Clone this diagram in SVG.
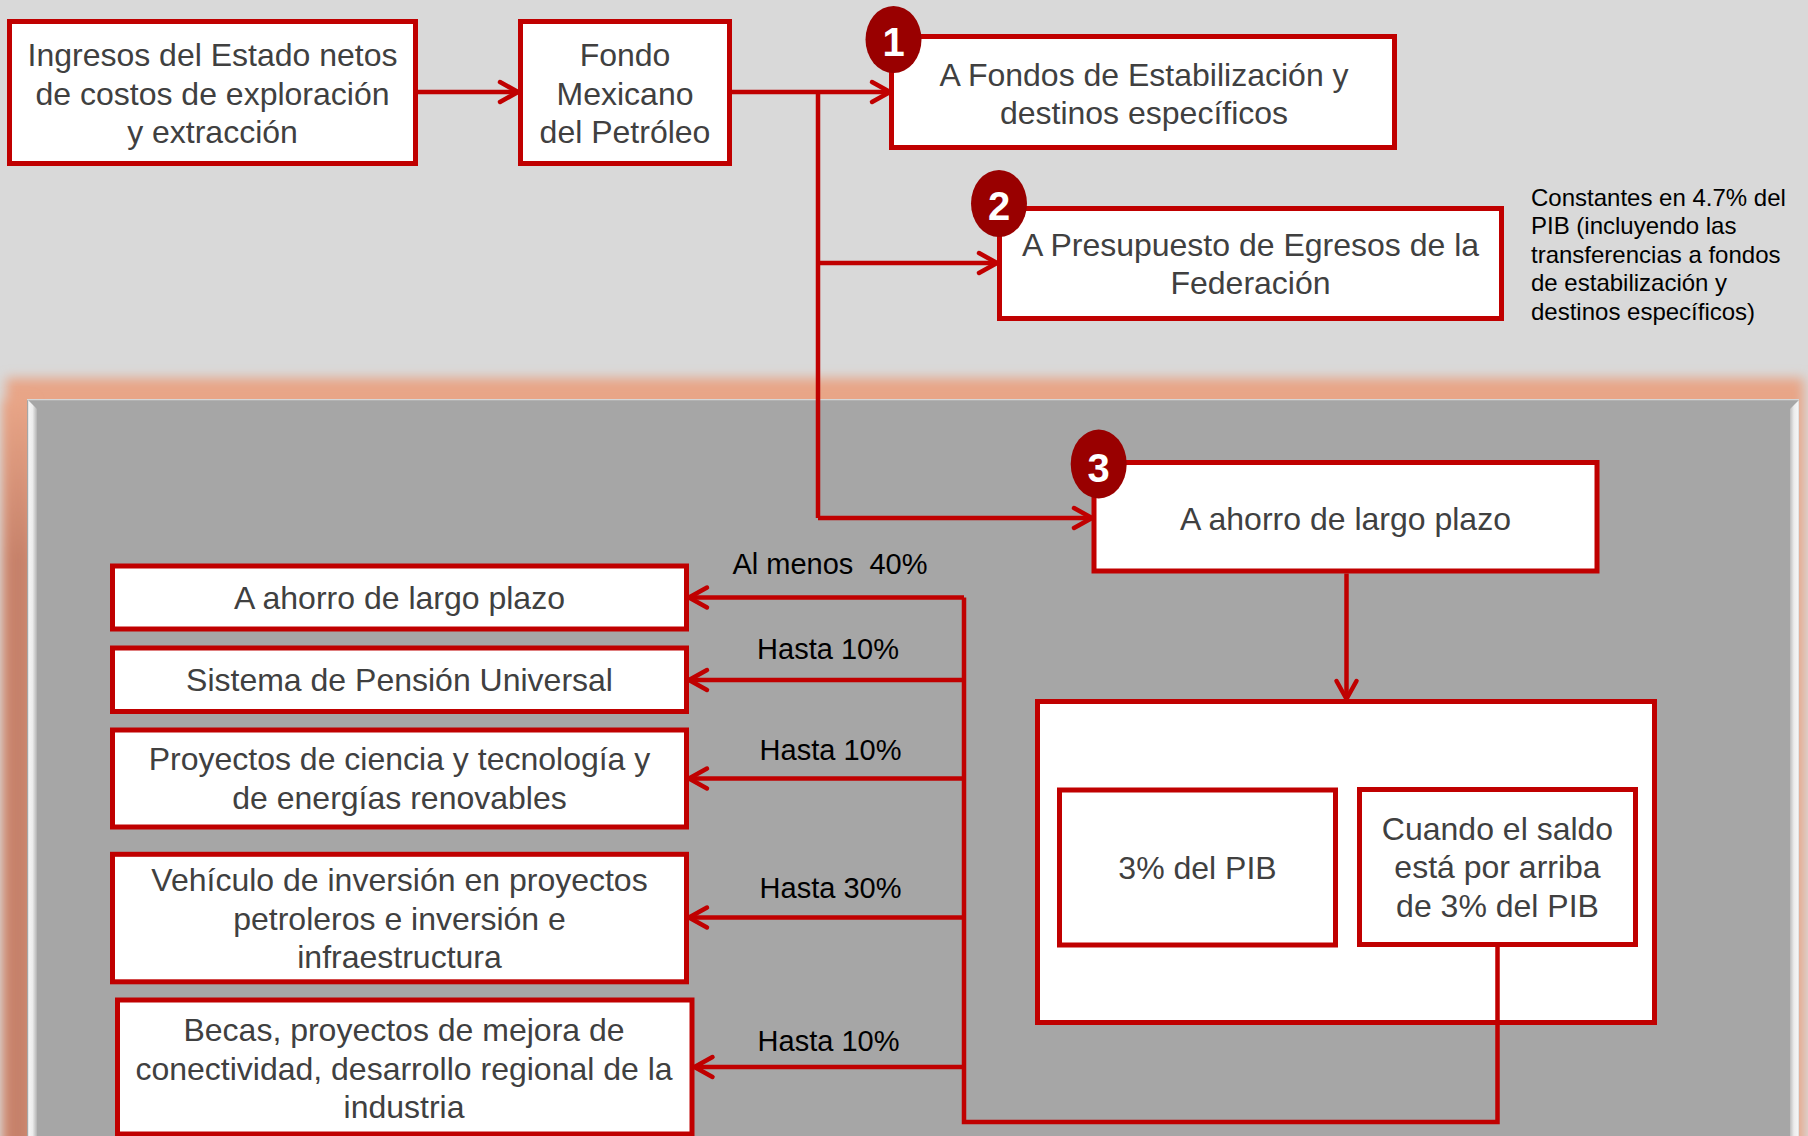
<svg xmlns="http://www.w3.org/2000/svg" width="1808" height="1136" viewBox="0 0 1808 1136">
<defs>
<style>
.box{fill:#fff;stroke:#c00000;stroke-width:5}
.t{font-family:"Liberation Sans",Arial,sans-serif;font-size:32px;fill:#404040;text-anchor:middle}
.lbl{font-family:"Liberation Sans",Arial,sans-serif;font-size:29px;fill:#000;text-anchor:middle;white-space:pre}
.note{font-family:"Liberation Sans",Arial,sans-serif;font-size:24px;fill:#000}
.badge{fill:#990000}
.num{font-family:"Liberation Sans",Arial,sans-serif;font-size:40px;font-weight:bold;fill:#fff;text-anchor:middle}
.c{fill:none;stroke:#c00000;stroke-width:4.5}
.a{marker-end:url(#ah)}
</style>
<marker id="ah" markerUnits="userSpaceOnUse" markerWidth="30" markerHeight="30" viewBox="-22 -15 30 30" refX="0" refY="0" orient="auto" overflow="visible">
<path d="M-18,-10 L0,0 L-18,10" fill="none" stroke="#c00000" stroke-width="4.5" stroke-linecap="round" stroke-linejoin="round"/>
</marker>
<filter id="blur" filterUnits="userSpaceOnUse" x="-50" y="330" width="1910" height="900">
<feGaussianBlur stdDeviation="6"/>
</filter>
<linearGradient id="glowL" gradientUnits="userSpaceOnUse" x1="0" y1="400" x2="0" y2="560">
<stop offset="0" stop-color="#e8a587"/>
<stop offset="1" stop-color="#c6816a"/>
</linearGradient>
<linearGradient id="bevL" gradientUnits="userSpaceOnUse" x1="27" y1="0" x2="38" y2="0">
<stop offset="0" stop-color="#c4c4c4"/>
<stop offset="0.2" stop-color="#f4f4f4"/>
<stop offset="0.5" stop-color="#ececec"/>
<stop offset="1" stop-color="#a6a6a6"/>
</linearGradient>
<linearGradient id="bevR" gradientUnits="userSpaceOnUse" x1="1800" y1="0" x2="1788" y2="0">
<stop offset="0" stop-color="#c4c4c4"/>
<stop offset="0.2" stop-color="#f4f4f4"/>
<stop offset="0.5" stop-color="#ececec"/>
<stop offset="1" stop-color="#a6a6a6"/>
</linearGradient>
</defs>

<rect x="0" y="0" width="1808" height="1136" fill="#d9d9d9"/>
<g id="panel">
<rect x="6" y="378" width="1798" height="820" fill="#e8a587" filter="url(#blur)"/>
<rect x="4" y="400" width="28" height="800" fill="url(#glowL)" filter="url(#blur)"/>
<rect x="27" y="399" width="1772" height="740" fill="#a6a6a6"/>
<line x1="27" y1="399.6" x2="1799" y2="399.6" stroke="#d6d6d6" stroke-width="1.2"/>
<polygon points="28,400 37,409 37,1136 28,1136" fill="url(#bevL)"/>
<polygon points="1799,400 1790,409 1790,1136 1799,1136" fill="url(#bevR)"/>
</g>

<g id="n-ingresos">
<rect class="box" x="9.5" y="21.5" width="406" height="142"/>
<text class="t" x="212.5" y="66">Ingresos del Estado netos</text>
<text class="t" x="212.5" y="104.5">de costos de exploración</text>
<text class="t" x="212.5" y="143">y extracción</text>
</g>
<g id="n-fondo">
<rect class="box" x="520.5" y="21.5" width="209" height="142"/>
<text class="t" x="625" y="66">Fondo</text>
<text class="t" x="625" y="104.5">Mexicano</text>
<text class="t" x="625" y="143">del Petróleo</text>
</g>
<g id="n-estabilizacion">
<rect class="box" x="891.5" y="36.5" width="503" height="111"/>
<text class="t" x="1144" y="85.5">A Fondos de Estabilización y</text>
<text class="t" x="1144" y="123.5">destinos específicos</text>
<ellipse class="badge" cx="893.5" cy="39.5" rx="28" ry="33.5"/>
<text class="num" x="893.5" y="56">1</text>
</g>
<g id="n-presupuesto">
<rect class="box" x="999.5" y="208.5" width="502" height="110"/>
<text class="t" x="1250.5" y="255.5">A Presupuesto de Egresos de la</text>
<text class="t" x="1250.5" y="294">Federación</text>
<ellipse class="badge" cx="999" cy="203.5" rx="28" ry="33.5"/>
<text class="num" x="999" y="220">2</text>
</g>
<g id="n-nota">
<text class="note" x="1531" y="205.5">Constantes en 4.7% del</text>
<text class="note" x="1531" y="234">PIB (incluyendo las</text>
<text class="note" x="1531" y="262.5">transferencias a fondos</text>
<text class="note" x="1531" y="291">de estabilización y</text>
<text class="note" x="1531" y="319.5">destinos específicos)</text>
</g>
<g id="n-ahorro3">
<rect class="box" x="1094" y="462.5" width="503" height="108.5"/>
<text class="t" x="1345.5" y="530">A ahorro de largo plazo</text>
<ellipse class="badge" cx="1098.7" cy="464" rx="28" ry="34.5"/>
<text class="num" x="1098.7" y="482">3</text>
</g>
<g id="n-contenedor">
<rect class="box" x="1037.5" y="701.5" width="617" height="321"/>
</g>
<g id="n-3pib">
<rect class="box" x="1059.5" y="790" width="276" height="155"/>
<text class="t" x="1197.5" y="878.5">3% del PIB</text>
</g>
<g id="n-cuando">
<rect class="box" x="1359.5" y="789.5" width="276" height="155"/>
<text class="t" x="1497.5" y="839.5">Cuando el saldo</text>
<text class="t" x="1497.5" y="878">está por arriba</text>
<text class="t" x="1497.5" y="916.5">de 3% del PIB</text>
</g>
<g id="n-l1">
<rect class="box" x="112.5" y="566" width="574" height="63"/>
<text class="t" x="399.5" y="609">A ahorro de largo plazo</text>
</g>
<g id="n-l2">
<rect class="box" x="112.5" y="648" width="574" height="63.5"/>
<text class="t" x="399.5" y="691">Sistema de Pensión Universal</text>
</g>
<g id="n-l3">
<rect class="box" x="112.5" y="730" width="574" height="97"/>
<text class="t" x="399.5" y="770">Proyectos de ciencia y tecnología y</text>
<text class="t" x="399.5" y="809">de energías renovables</text>
</g>
<g id="n-l4">
<rect class="box" x="112.5" y="854.3" width="574" height="127.5"/>
<text class="t" x="399.5" y="891">Vehículo de inversión en proyectos</text>
<text class="t" x="399.5" y="929.5">petroleros e inversión e</text>
<text class="t" x="399.5" y="968">infraestructura</text>
</g>
<g id="n-l5">
<rect class="box" x="117.5" y="1000" width="574.5" height="134"/>
<text class="t" x="404" y="1041">Becas, proyectos de mejora de</text>
<text class="t" x="404" y="1079.5">conectividad, desarrollo regional de la</text>
<text class="t" x="404" y="1118">industria</text>
</g>

<g id="connectors">
<path class="c a" d="M418,92 H518"/>
<path class="c a" d="M732,92 H890"/>
<path class="c" d="M818,92 V518"/>
<path class="c a" d="M818,263 H997"/>
<path class="c a" d="M818,518 H1092"/>
<path class="c a" d="M1346.5,573.5 V699"/>
<path class="c" d="M1497.5,947 V1122 H964 V597.5"/>
<path class="c a" d="M964,597.5 H689"/>
<path class="c a" d="M964,680 H689"/>
<path class="c a" d="M964,778.5 H689"/>
<path class="c a" d="M964,917.5 H689"/>
<path class="c a" d="M964,1067 H694.5"/>
</g>
<g id="labels">
<text class="lbl" x="830" y="573.5">Al menos  40%</text>
<text class="lbl" x="828" y="658.5">Hasta 10%</text>
<text class="lbl" x="830.5" y="759.5">Hasta 10%</text>
<text class="lbl" x="830.5" y="897.5">Hasta 30%</text>
<text class="lbl" x="828.5" y="1051">Hasta 10%</text>
</g>
</svg>
